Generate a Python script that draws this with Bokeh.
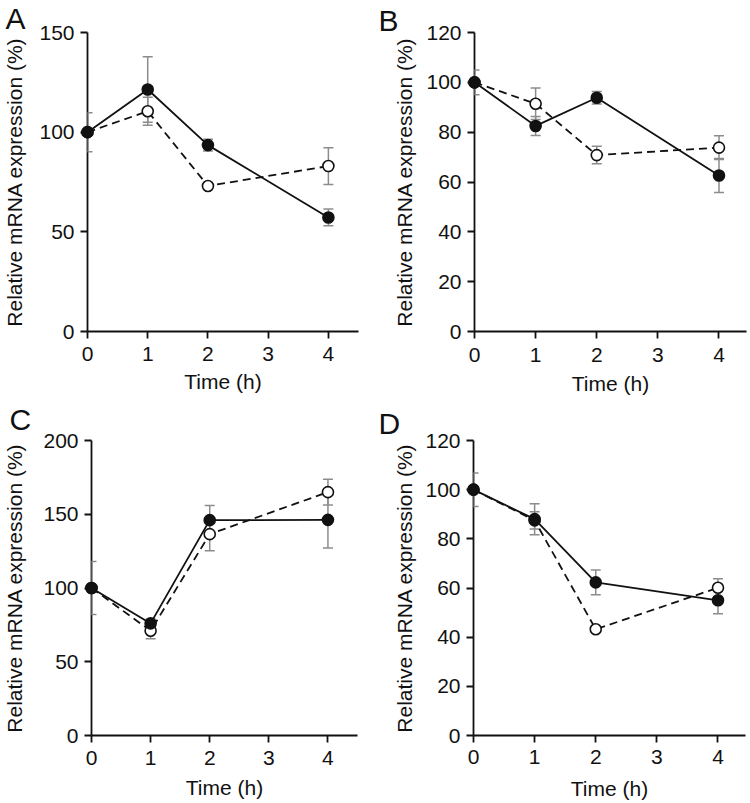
from bokeh.plotting import figure
from bokeh.models import Range1d, Whisker, TeeHead, ColumnDataSource
from bokeh.layouts import column, row
from bokeh.embed import file_html
from bokeh.resources import INLINE
from bokeh.core.properties import value

# ---------------- data ----------------
time_h = [0, 1, 2, 4]
x_ticks = [0, 1, 2, 3, 4]

a_filled = [100, 121.4, 93.5, 57.2]
a_filled_err = [9.8, 16.4, 3.0, 4.2]
a_open = [100, 110.5, 73.0, 83.0]
a_open_err = [0, 7.0, 1.5, 9.2]
a_yticks = [0, 50, 100, 150]

b_filled = [100, 82.5, 93.8, 62.6]
b_filled_err = [5.0, 3.8, 2.5, 6.8]
b_open = [100, 91.4, 70.8, 73.8]
b_open_err = [0, 6.3, 3.5, 4.8]
b_yticks = [0, 20, 40, 60, 80, 100, 120]

c_filled = [100, 76.0, 146.0, 146.2]
c_filled_err = [18.0, 3.0, 10.0, 19.0]
c_open = [100, 71.0, 136.5, 165.0]
c_open_err = [0, 5.4, 11.2, 8.8]
c_yticks = [0, 50, 100, 150, 200]

d_filled = [100, 88.0, 62.3, 55.0]
d_filled_err = [6.8, 6.3, 5.0, 5.5]
d_open = [100, 87.5, 43.2, 60.1]
d_open_err = [0, 3.5, 1.0, 3.7]
d_yticks = [0, 20, 40, 60, 80, 100, 120]

x_label = "Time (h)"
y_label = "Relative mRNA expression (%)"

FONT = "Liberation Sans"
GREY = "#8c8c8c"
INK = "#111111"


def make_panel(letter, filled, ferr, opn, oerr, ymax, yticks, xend, h,
               left, right, top, bottom, lx, ly, s1y, s2y, s1x, s2x):
    p = figure(width=375, height=h, output_backend="svg", toolbar_location=None,
               x_range=Range1d(0, xend), y_range=Range1d(0, ymax),
               min_border_left=left, min_border_right=right,
               min_border_top=top, min_border_bottom=bottom)
    p.outline_line_color = None
    p.xgrid.visible = False
    p.ygrid.visible = False
    p.background_fill_color = "white"
    p.border_fill_color = "white"

    for ax in (p.xaxis[0], p.yaxis[0]):
        ax.axis_line_width = 1.8
        ax.axis_line_color = INK
        ax.major_tick_line_width = 1.8
        ax.major_tick_line_color = INK
        ax.major_tick_out = 7
        ax.major_tick_in = 0
        ax.minor_tick_line_color = None
        ax.major_label_text_font = FONT
        ax.major_label_text_font_size = "21px"
        ax.major_label_text_color = INK
        ax.axis_label_text_font = FONT
        ax.axis_label_text_font_size = "21px"
        ax.axis_label_text_font_style = "normal"
        ax.axis_label_text_color = INK
    p.xaxis.ticker = x_ticks
    p.yaxis.ticker = yticks
    p.xaxis.axis_label = x_label
    p.yaxis.axis_label = y_label
    p.yaxis.major_label_standoff = s1y
    p.yaxis.axis_label_standoff = s2y
    p.xaxis.major_label_standoff = s1x
    p.xaxis.axis_label_standoff = s2x

    for vals, errs in ((filled, ferr), (opn, oerr)):
        src = ColumnDataSource(dict(
            x=time_h,
            up=[v + e for v, e in zip(vals, errs)],
            lo=[v - e for v, e in zip(vals, errs)]))
        w = Whisker(source=src, base="x", upper="up", lower="lo",
                    line_color=GREY, line_width=1.5, level="guide",
                    upper_head=TeeHead(size=10, line_color=GREY, line_width=1.5),
                    lower_head=TeeHead(size=10, line_color=GREY, line_width=1.5))
        p.add_layout(w)

    r1 = p.line(time_h, opn, line_color=INK, line_width=1.8, line_dash="8 5")
    r2 = p.line(time_h, filled, line_color=INK, line_width=1.8)
    r1.level = "annotation"
    r2.level = "annotation"
    m1 = p.scatter(time_h, opn, size=11, fill_color="white", line_color=INK, line_width=1.6)
    m2 = p.scatter(time_h, filled, size=11, fill_color=INK, line_color=INK, line_width=1.6)
    m1.level = "overlay"
    m2.level = "overlay"

    t = p.text(x=[0], y=[ymax], text=[letter], x_offset=lx, y_offset=-ly,
               text_font=value(FONT), text_font_size="30px", text_color=INK,
               text_baseline="top", text_align="left")
    t.level = "overlay"
    return p


pA = make_panel("A", a_filled, a_filled_err, a_open, a_open_err, 150, a_yticks, 4.5, 400,
                83, 17, 32, 67, -82, 31, 6, 10, 8, 6)
pB = make_panel("B", b_filled, b_filled_err, b_open, b_open_err, 120, b_yticks, 4.45, 400,
                99, 4, 30, 69, -96, 29, 6, 7, 9, 7)
pC = make_panel("C", c_filled, c_filled_err, c_open, c_open_err, 200, c_yticks, 4.5, 402,
                82, 18, 40, 62, -82, 38, 6, 14, 8, 8)
pD = make_panel("D", d_filled, d_filled_err, d_open, d_open_err, 120, d_yticks, 4.45, 402,
                98, 5, 36, 64, -95, 34, 6, 6, 7, 10)

layout = column(row(pA, pB), row(pC, pD))
open("out.html", "w").write(file_html(layout, INLINE))
